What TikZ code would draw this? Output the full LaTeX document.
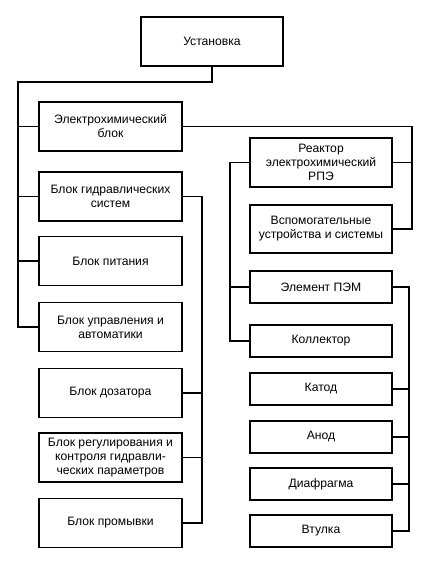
\documentclass[tikz,border=0pt]{standalone}
\usepackage{fontspec}
\setmainfont{Liberation Sans}
\begin{document}
\begin{tikzpicture}[x=1bp,y=-1bp,
  box/.style={draw, line width=1.2bp, inner sep=0pt, align=center,
    font=\fontsize{12.2}{14}\selectfont},
  lbox/.style={box, minimum width=143bp, minimum height=49bp},
  rbox/.style={box, minimum width=142bp, minimum height=49bp},
  sbox/.style={box, minimum width=142bp, minimum height=32bp},
  conn/.style={line width=1.2bp}]
\useasboundingbox (0,0) rectangle (432,571);
% top
\node[rbox] (top) at (212,41.5) {Установка};
% left column
\node[lbox] (elb) at (110.5,126.5) {Электрохимический\\блок};
\node[lbox] (gid) at (110.5,196.5) {Блок гидравлических\\систем};
\node[lbox] (pit) at (110.5,261) {Блок питания};
\node[lbox] (upr) at (110.5,327) {Блок управления и\\автоматики};
\node[lbox] (doz) at (110.5,393) {Блок дозатора};
\node[lbox] (reg) at (110.5,457.5) {Блок регулирования и\\контроля гидравли-\\ческих параметров};
\node[lbox] (prom) at (110.5,523) {Блок промывки};
% right column
\node[rbox] (rea) at (321,162.5) {Реактор\\электрохимический\\РПЭ};
\node[rbox, minimum height=48bp] (vsp) at (321,229) {Вспомогательные\\устройства и системы};
\node[sbox] (elem) at (321,287) {Элемент ПЭМ};
\node[sbox] (kol) at (321,341) {Коллектор};
\node[sbox] (kat) at (321,389) {Катод};
\node[sbox] (anod) at (321,437) {Анод};
\node[sbox] (diaf) at (321,484) {Диафрагма};
\node[sbox] (vtul) at (321,531) {Втулка};
% coordinates for spines
\coordinate (sL) at (18,82);
\coordinate (cR) at (412,229);
\coordinate (cI) at (230,341);
\coordinate (cE) at (409,531);
\coordinate (cG) at (202,523);
% connectors
\draw[conn] (top.south) |- (sL) |- (upr.west);
\draw[conn] (elb.west) -- (elb.west -| sL);
\draw[conn] (gid.west) -- (gid.west -| sL);
\draw[conn] (pit.west) -- (pit.west -| sL);
\draw[conn] (elb.east) -| (cR) -- (vsp.east);
\draw[conn] (rea.east) -- (rea.east -| cR);
\draw[conn] (rea.west) -| (cI) -- (kol.west);
\draw[conn] (elem.west) -- (elem.west -| cI);
\draw[conn] (elem.east) -| (cE) -- (vtul.east);
\draw[conn] (kat.east) -- (kat.east -| cE);
\draw[conn] (anod.east) -- (anod.east -| cE);
\draw[conn] (diaf.east) -- (diaf.east -| cE);
\draw[conn] (gid.east) -| (cG) -- (prom.east);
\draw[conn] (doz.east) -- (doz.east -| cG);
\draw[conn] (reg.east) -- (reg.east -| cG);
\end{tikzpicture}
\end{document}
